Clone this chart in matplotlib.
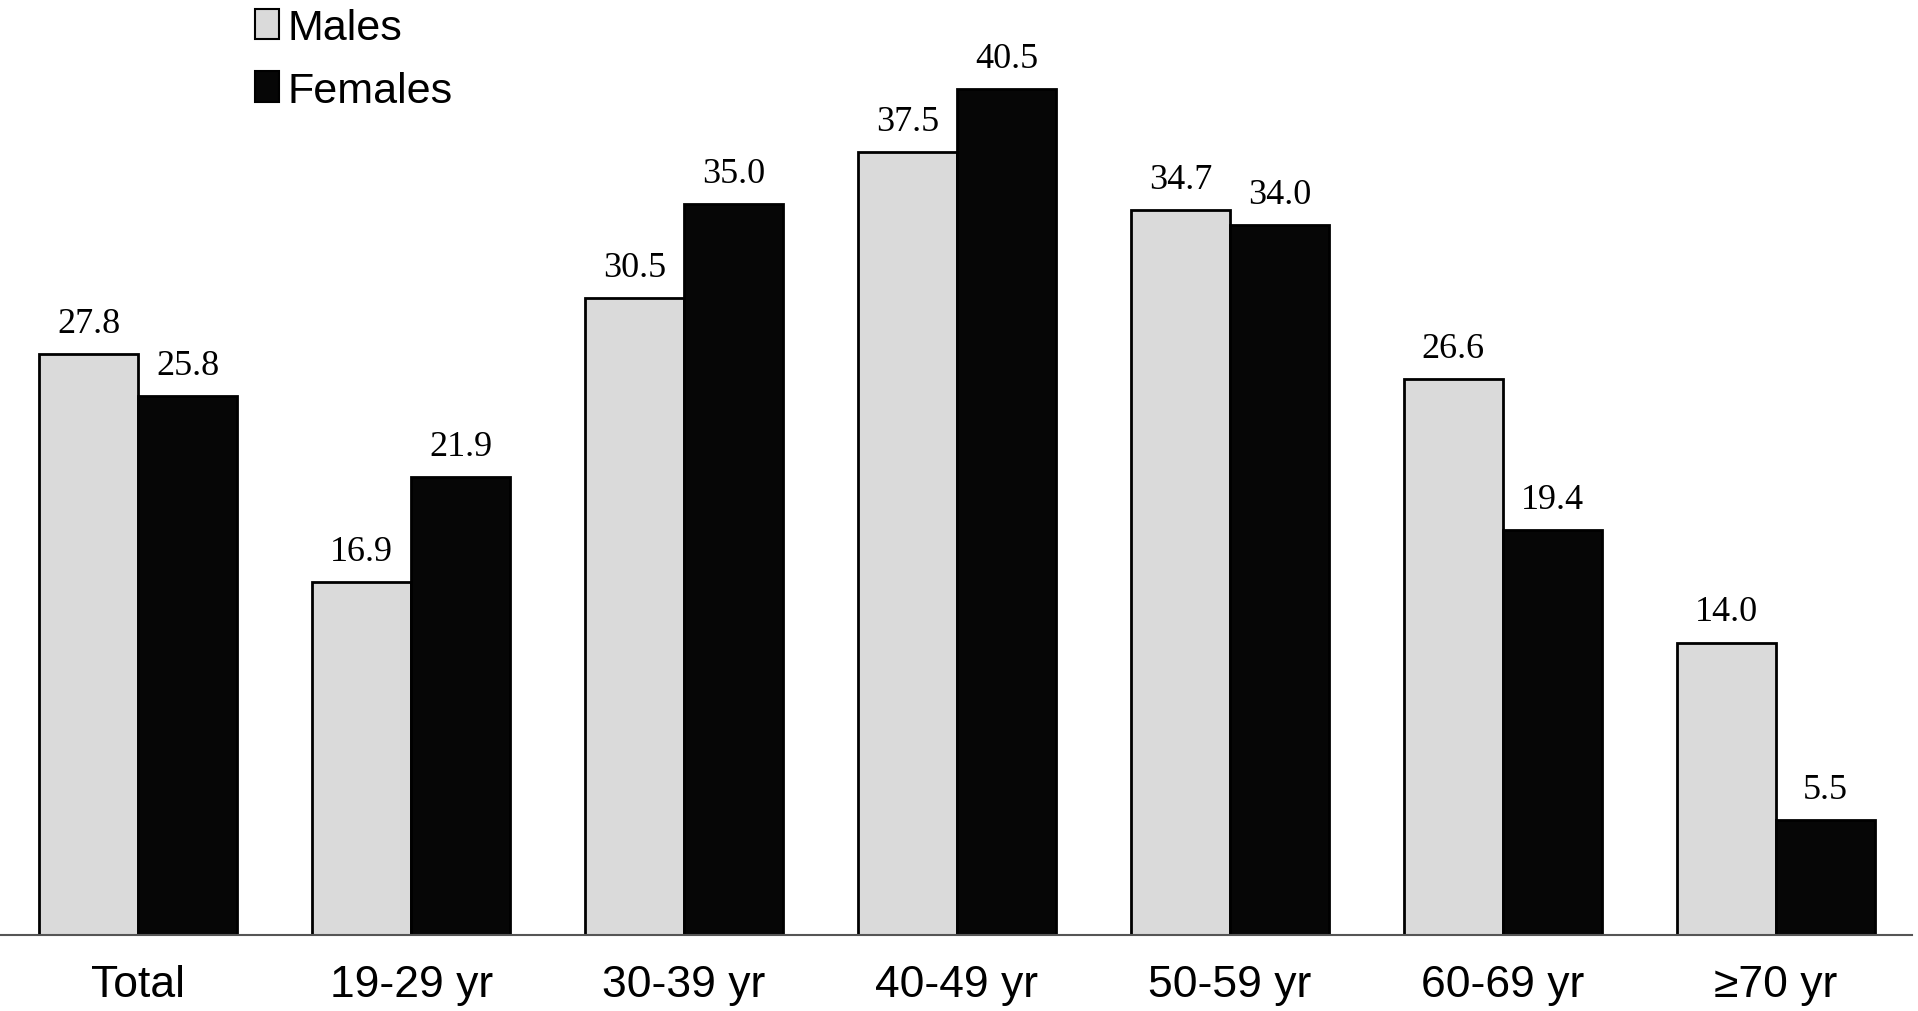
"""Bar chart: males vs females by age group, value labels above bars."""
import matplotlib

matplotlib.use("Agg")
import matplotlib.pyplot as plt
import numpy as np
from matplotlib.patches import Patch

groups = ["Total", "19-29 yr", "30-39 yr", "40-49 yr", "50-59 yr", "60-69 yr", "\u226570 yr"]
males = [27.8, 16.9, 30.5, 37.5, 34.7, 26.6, 14.0]
females = [25.8, 21.9, 35.0, 40.5, 34.0, 19.4, 5.5]

W, H, DPI = 1918, 1012, 100
fig = plt.figure(figsize=(W / DPI, H / DPI), dpi=DPI)
# axes: from x=0 to 1912 px, bottom at 936 px from top, up to the figure top
ax = fig.add_axes([0, (H - 936) / H, 1912 / W, 936 / H])

x = np.arange(len(groups))
bw = 0.363
ax.bar(x - bw / 2, males, width=bw, color="#dadada", edgecolor="black", linewidth=2, zorder=2)
ax.bar(x + bw / 2, females, width=bw, color="#060606", edgecolor="black", linewidth=2, zorder=2)

for xi, m, f in zip(x, males, females):
    ax.annotate(f"{m:.1f}", (xi - bw / 2, m), xytext=(0, 14), textcoords="offset pixels",
                ha="center", va="bottom", fontsize=26, family="Liberation Serif")
    ax.annotate(f"{f:.1f}", (xi + bw / 2, f), xytext=(0, 14), textcoords="offset pixels",
                ha="center", va="bottom", fontsize=26, family="Liberation Serif")

ax.set_xlim(-0.507, 6.50)
ax.set_ylim(0, 44.8)
for s in ["top", "right", "left"]:
    ax.spines[s].set_visible(False)
ax.spines["bottom"].set_color("#555555")
ax.spines["bottom"].set_linewidth(1.5)
ax.spines["bottom"].set_zorder(3)
ax.set_yticks([])
ax.set_xticks(x)
ax.set_xticklabels(groups, fontsize=32, family="Liberation Sans")
ax.tick_params(axis="x", length=0, pad=21)

handles = [Patch(facecolor="#dadada", edgecolor="black", linewidth=1.5, label="Males"),
           Patch(facecolor="#060606", edgecolor="black", linewidth=1.5, label="Females")]
leg = fig.legend(handles=handles, loc="upper left", bbox_to_anchor=(238 / W, 1.0 + 8 / H),
                 frameon=False, handlelength=0.55, handleheight=0.7,
                 handletextpad=0.2, labelspacing=0.52, borderaxespad=0,
                 prop={"family": "Liberation Sans", "size": 31})

fig.savefig("out.png", dpi=DPI)
